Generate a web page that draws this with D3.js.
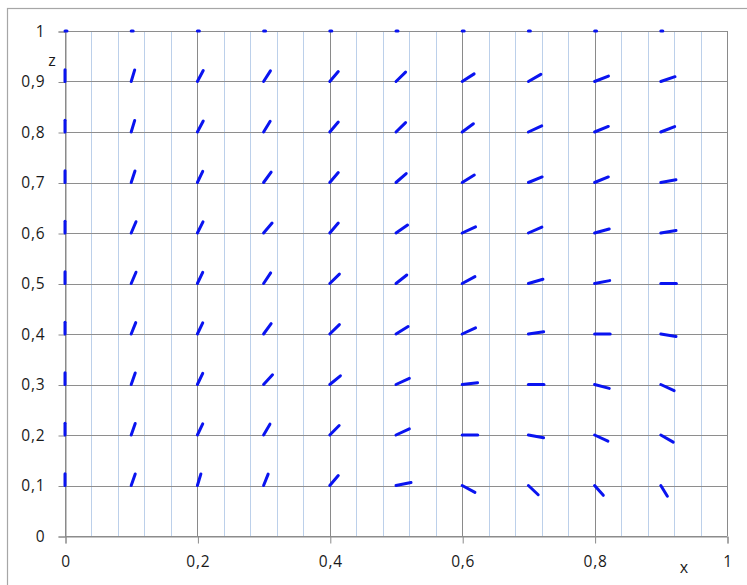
<!DOCTYPE html>
<html>
<head>
<meta charset="utf-8">
<script src="https://cdn.jsdelivr.net/npm/d3@7"></script>
<style>
  html, body { margin: 0; padding: 0; background: #fff; }
  svg { display: block; }
  text { font-family: "Open Sans", "DejaVu Sans", sans-serif; fill: #1a1a1a; }
</style>
</head>
<body>
<svg id="chart" width="747" height="585"></svg>
<script>
// ---- data ----
const xValues = [0, 0.1, 0.2, 0.3, 0.4, 0.5, 0.6, 0.7, 0.8, 0.9];
const zValues = [0.9, 0.8, 0.7, 0.6, 0.5, 0.4, 0.3, 0.2, 0.1];
// direction angle (degrees, in data space) of each field segment; rows follow zValues, columns follow xValues
const angles = [
  [90, 77, 68, 64, 57, 52, 40, 37, 27, 24],
  [90, 77, 68, 65, 57, 52, 44, 31, 28, 27],
  [90, 76, 70, 61, 57, 49, 39, 28, 28, 13],
  [90, 72, 69, 57, 57, 42, 31, 30, 20, 12],
  [90, 72, 70, 63, 52, 46, 35, 21, 14, 0],
  [90, 73, 70, 61, 52, 39, 31, 11, 0, -12],
  [90, 75, 70, 55, 47, 31, 9, 0, -19, -31],
  [90, 75, 70, 66, 53, 31, 0, -13, -31, -37],
  [90, 75, 77, 73, 57, 15, -35, -51, -56, -65]
];
// at z = 1 the field vanishes: zero-length segments (dots)
const zeroRowZ = 1;
const segmentLength = 0.0235;
const yTicks = [0, 0.1, 0.2, 0.3, 0.4, 0.5, 0.6, 0.7, 0.8, 0.9, 1];
const xTicks = [0, 0.2, 0.4, 0.6, 0.8, 1];
const xMinor = d3.range(0, 1.0001, 0.04);

// ---- layout ----
const svg = d3.select("#chart");
const plotLeft = 65, plotRight = 727, plotTop = 31, plotBottom = 536;
const x = d3.scaleLinear().domain([0, 1]).range([plotLeft, plotRight]);
const y = d3.scaleLinear().domain([0, 1]).range([plotBottom, plotTop]);
const fmt = d => (d === 0 || d === 1) ? String(d) : d3.format(".1f")(d).replace(".", ",");

// outer chart frame
svg.append("rect")
  .attr("x", 7.5).attr("y", 8.5).attr("width", 760).attr("height", 600)
  .attr("fill", "none").attr("stroke", "#a6a6a6").attr("stroke-width", 1.2);

// minor vertical gridlines
svg.append("g").selectAll("line")
  .data(xMinor.filter(v => Math.abs(v * 5 - Math.round(v * 5)) > 1e-6))
  .join("line")
  .attr("x1", d => Math.round(x(d)) + 0.5).attr("x2", d => Math.round(x(d)) + 0.5)
  .attr("y1", y(1)).attr("y2", y(0))
  .attr("stroke", "#bcd0ea").attr("stroke-width", 1);

// horizontal gridlines
svg.append("g").selectAll("line")
  .data(yTicks)
  .join("line")
  .attr("x1", x(0)).attr("x2", x(1))
  .attr("y1", d => Math.round(y(d)) + 0.5).attr("y2", d => Math.round(y(d)) + 0.5)
  .attr("stroke", "#8e8e8e").attr("stroke-width", 1);

// major vertical gridlines
svg.append("g").selectAll("line")
  .data(xTicks)
  .join("line")
  .attr("x1", d => Math.round(x(d)) + 0.5).attr("x2", d => Math.round(x(d)) + 0.5)
  .attr("y1", y(1)).attr("y2", y(0))
  .attr("stroke", "#8a8a8a").attr("stroke-width", 1);

// y axis
const yAxis = svg.append("g")
  .attr("transform", `translate(${plotLeft + 0.5},0.5)`)
  .call(d3.axisLeft(y).tickValues(yTicks).tickSize(7).tickPadding(13).tickFormat(fmt));
yAxis.select(".domain").attr("stroke", "#8a8a8a");
yAxis.selectAll(".tick line").attr("stroke", "#8a8a8a");
yAxis.selectAll(".tick text").attr("font-size", 15.5).attr("letter-spacing", 0.8)
  .attr("font-family", "'Open Sans', sans-serif").attr("fill", "#1a1a1a");

// x axis
const xAxis = svg.append("g")
  .attr("transform", `translate(0.5,${plotBottom + 0.5})`)
  .call(d3.axisBottom(x).tickValues(xTicks).tickSize(7).tickPadding(12).tickFormat(fmt));
xAxis.select(".domain").attr("stroke", "#8a8a8a");
xAxis.selectAll(".tick line").attr("stroke", "#8a8a8a");
xAxis.selectAll(".tick text").attr("font-size", 15.5).attr("letter-spacing", 0.8)
  .attr("font-family", "'Open Sans', sans-serif").attr("fill", "#1a1a1a");

// axis titles
svg.append("text").attr("x", 684).attr("y", 573).attr("text-anchor", "middle")
  .attr("font-size", 16).text("x");
svg.append("text").attr("x", 52).attr("y", 66).attr("text-anchor", "middle")
  .attr("font-size", 16).text("z");

// field segments
const segs = [];
zValues.forEach((z, i) => {
  xValues.forEach((xv, j) => {
    const a = angles[i][j] * Math.PI / 180;
    segs.push({ x0: xv, z0: z, x1: xv + segmentLength * Math.cos(a), z1: z + segmentLength * Math.sin(a) });
  });
});
xValues.forEach(xv => segs.push({ x0: xv, z0: zeroRowZ, x1: xv + 0.003, z1: zeroRowZ }));

svg.append("g").selectAll("line")
  .data(segs)
  .join("line")
  .attr("x1", d => x(d.x0)).attr("y1", d => y(d.z0))
  .attr("x2", d => x(d.x1)).attr("y2", d => y(d.z1))
  .attr("stroke", "#0a14f0").attr("stroke-width", 3).attr("stroke-linecap", "round");
</script>
</body>
</html>
